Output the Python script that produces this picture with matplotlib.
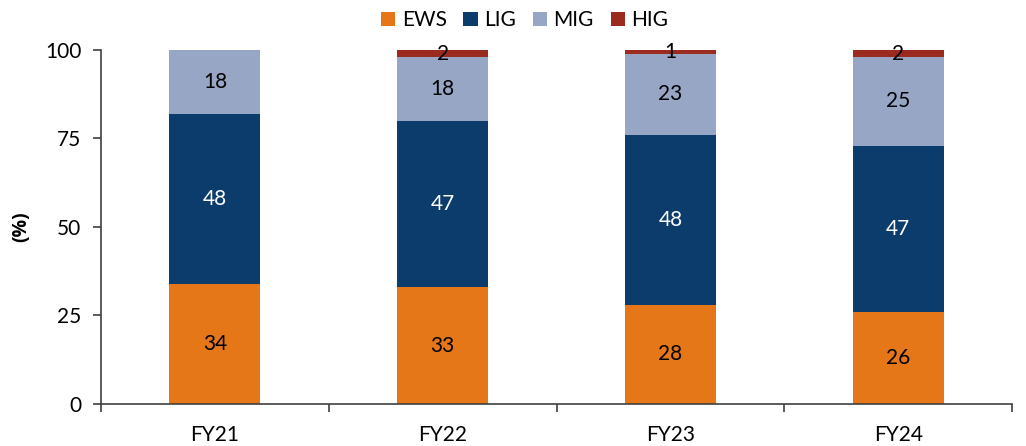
import matplotlib.pyplot as plt
import numpy as np

plt.rcParams['font.family'] = ['Lato', 'DejaVu Sans']

years = ['FY21', 'FY22', 'FY23', 'FY24']
ews = np.array([34, 33, 28, 26])
lig = np.array([48, 47, 48, 47])
mig = np.array([18, 18, 23, 25])
hig = np.array([0, 2, 1, 2])

series = [('EWS', ews, '#E57718', 'black'),
          ('LIG', lig, '#0B3C6C', 'white'),
          ('MIG', mig, '#97A6C4', 'black'),
          ('HIG', hig, '#9B2B1F', 'black')]

fig = plt.figure(figsize=(10.26, 4.46), dpi=100)
ax = fig.add_axes([0.0984, 0.0942, 0.888, 0.7937])

x = np.arange(len(years))
bottom = np.zeros(len(years))
for name, vals, color, tcolor in series:
    bars = ax.bar(x, vals, 0.4, bottom=bottom, color=color, label=name)
    for xi, b, v in zip(x, bottom, vals):
        if v > 0:
            ax.text(xi, b + v / 2, str(v), ha='center', va='center',
                    fontsize=15, color=tcolor)
    bottom = bottom + vals

ax.set_xlim(-0.5, len(years) - 0.5)
ax.set_ylim(0, 100)
ax.set_yticks([0, 25, 50, 75, 100])
ax.set_xticks(x)
ax.set_xticklabels(years)
ax.set_xticks(np.arange(-0.5, len(years)), minor=True)
ax.tick_params(axis='x', which='major', length=0, pad=15, labelsize=15)
ax.tick_params(axis='x', which='minor', length=6, width=1.2, color='#404040', direction='out')
ax.tick_params(axis='y', length=6, width=1.2, color='#404040', labelsize=15, pad=8)
for s in ['top', 'right']:
    ax.spines[s].set_visible(False)
for s in ['left', 'bottom']:
    ax.spines[s].set_color('#404040')
    ax.spines[s].set_linewidth(1.2)

ax.set_ylabel('(%)', fontsize=14, fontweight='bold', labelpad=10,
              family=['Open Sans', 'DejaVu Sans'])

ax.legend(loc='upper center', bbox_to_anchor=(0.465, 1.165), ncol=4, frameon=False,
          fontsize=15, handlelength=0.7, handleheight=0.7, handletextpad=0.3,
          columnspacing=0.8)

fig.savefig('out.png', dpi=100)
